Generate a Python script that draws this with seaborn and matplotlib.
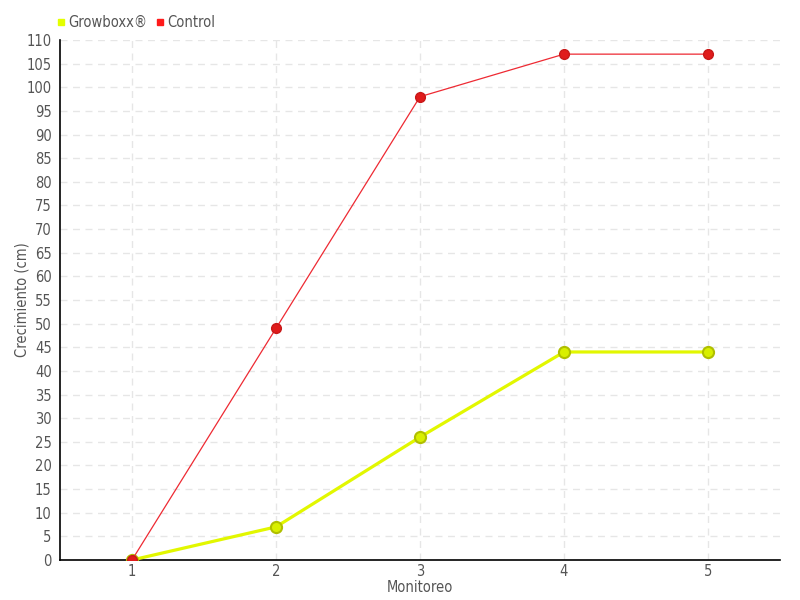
import pandas as pd
import numpy as np
import matplotlib.pyplot as plt
import seaborn as sns

# data
monitoreo = [1, 2, 3, 4, 5]
growboxx = [0, 7, 26, 44, 44]
control = [0, 49, 98, 107, 107]
series_names = ['Growboxx®', 'Control']

df = pd.DataFrame({
    'Monitoreo': monitoreo * 2,
    'Crecimiento': growboxx + control,
    'Serie': [series_names[0]] * 5 + [series_names[1]] * 5,
})

sns.set_style('white')
plt.rcParams['font.family'] = ['DejaVu Sans']
plt.rcParams['font.stretch'] = 'condensed'
plt.rcParams['font.weight'] = 'light'

fig = plt.figure(figsize=(8, 6), dpi=100)
ax = fig.add_axes([0.075, 0.0667, 0.9, 0.8667])

yellow = '#e2f700'
red = '#ee2a33'

g = df[df['Serie'] == series_names[0]]
sns.lineplot(data=g, x='Monitoreo', y='Crecimiento', color=yellow, linewidth=2.3,
             marker='o', markersize=8, markerfacecolor='#d8ef00', markeredgecolor='#b0bf00',
             markeredgewidth=1.5, ax=ax, zorder=3)
c = df[df['Serie'] == series_names[1]]
sns.lineplot(data=c, x='Monitoreo', y='Crecimiento', color=red, linewidth=0.9,
             marker='o', markersize=7, markerfacecolor='#e01b1b', markeredgecolor='#c81818',
             markeredgewidth=1, ax=ax, zorder=4)

ax.set_xlim(0.5, 5.5)
ax.set_ylim(0, 110)
ax.set_xticks(monitoreo)
ax.set_yticks(np.arange(0, 111, 5))
ax.grid(True, color='#e6e6e6', linestyle=(0, (5, 4)), linewidth=1)
ax.set_axisbelow(True)
for s in ['top', 'right']:
    ax.spines[s].set_visible(False)
for s in ['left', 'bottom']:
    ax.spines[s].set_color('black')
    ax.spines[s].set_linewidth(1.2)
ax.tick_params(axis='both', colors='black', labelcolor='#555555', labelsize=10.5,
               length=4, width=1, direction='out')
ax.tick_params(axis='y', pad=2)
ax.tick_params(axis='x', pad=-1)
ax.set_xlabel('Monitoreo', fontsize=10.5, color='#555555')
ax.set_ylabel('Crecimiento (cm)', fontsize=10.5, color='#555555')
ax.xaxis.set_label_coords(0.5, -0.039)
ax.yaxis.set_label_coords(-0.043, 0.5)

# legend with square markers, top left
handles = [plt.Line2D([], [], marker='s', linestyle='', color='#e4ff00', markersize=5),
           plt.Line2D([], [], marker='s', linestyle='', color='#ff1a1a', markersize=5)]
fig.legend(handles, series_names, loc='upper left', bbox_to_anchor=(0.052, 0.997),
           ncol=2, frameon=False, fontsize=10.5, handletextpad=0.1, columnspacing=0.5,
           labelcolor='#555555', handlelength=0.8)

plt.savefig('out.png', dpi=100)
